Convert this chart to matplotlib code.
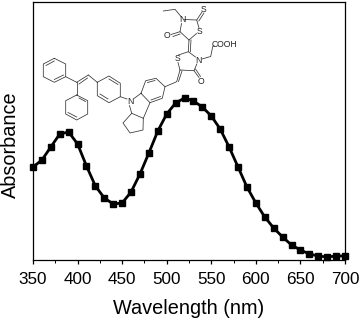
import matplotlib
matplotlib.use("Agg")
import matplotlib.pyplot as plt
from matplotlib.lines import Line2D

wavelength = list(range(350, 701, 10))
absorbance = [93, 100, 113, 126, 128, 116, 94, 74, 62, 56, 57, 68, 86, 107, 129, 146,
              157, 162, 159, 153, 144, 131, 113, 93, 73, 57, 43, 32, 23, 15, 10, 6, 4, 3, 4, 4]
x_ticks = [350, 400, 450, 500, 550, 600, 650, 700]
x_minor = [375, 425, 475, 525, 575, 625, 675]
x_label = "Wavelength (nm)"
y_label = "Absorbance"

# Structure drawing in image pixels (decoration inset)
bonds_single = [
    # phenyl 1
    [(54.3,58.3),(65.7,64),(65.7,76.7),(54.3,82.3),(43.3,76.7),(43.3,64),(54.3,58.3)],
    [(65.7,76.7),(76.7,82.3)],
    [(76.7,82.3),(76.7,95)],
    [(76.7,82.3),(88.3,75)],
    [(88.3,75),(97.3,82.3)],
    # phenyl 2
    [(76.7,95),(87.7,100.7),(87.7,114),(76.7,120),(65.7,114),(65.7,100.7),(76.7,95)],
    # phenyl 3
    [(97.3,82.3),(109,76),(120.3,83.3),(120.3,96.7),(109,102.7),(97.3,95.7),(97.3,82.3)],
    [(120.3,96.7),(127,99)],
    # fused rings
    [(134.3,98.3),(141,93.3)],
    [(141,93.3),(145.7,80.7),(156,78.3),(165,86.7),(162.3,98.3),(150,102.7),(141,93.3)],
    [(150,102.7),(143.3,118.3)],
    [(129.5,105.5),(131.7,113.3),(143.3,118.3)],
    [(131.7,113.3),(123,123),(130,133),(143,130),(143.3,118.3)],
    # vinyl link
    [(165,86.7),(176.7,81.7),(180,70)],
    # lower ring
    [(180,70),(178,62.5)],
    [(180,70),(194,70.7),(196.8,64)],
    [(194,70.7),(199,77.5)],
    [(178.5,55),(188.3,51.7),(195.5,57)],
    [(202,59),(210.7,56.5),(212.7,46.7),(214,45.5)],
    # central exocyclic bond
    [(188.3,51.7),(189,40)],
    # upper ring
    [(189,40),(196.5,33.5)],
    [(189,40),(180,31.7),(181.5,23.5)],
    [(180,31.7),(171,34.5)],
    [(184.5,19.5),(196.7,20),(199,28)],
    [(196.7,20),(202,12)],
    [(181,16.5),(175,9.3),(163.3,11)],
]
bonds_double = [
    ((46,65.5),(54.3,61)), ((63.5,75),(54.3,79.5)),
    ((79,84),(87.5,78)),
    ((79,98),(85.5,101.5)), ((68,112.5),(76.7,117)),
    ((100,94),(108,99)), ((109,79),(118,84.5)),
    ((147.5,82.5),(155,80.5)), ((160.5,96.5),(151,100)),
    ((178.5,81.5),(182,71)),
    ((190.3,51.7),(191,40)),
    ((195.5,69),(200.5,76.5)),
    ((173,36.5),(180,34)),
    ((198.8,21),(204,13)),
]
labels = [
    (130.7,101.5,"N"),(177.7,58.3,"S"),(198.3,60.5,"N"),(201,81,"O"),
    (182.3,20,"N"),(199.3,31.7,"S"),(166.7,36,"O"),(204,9.3,"S"),(224,44.5,"COOH"),
]

W, H = 361, 320
plt.rcParams["font.family"] = ["Liberation Sans"]
fig = plt.figure(figsize=(W/100, H/100), dpi=100)
L, R, T, B = 33, 345, 1.5, 260
ax = fig.add_axes([L/W, 1-B/H, (R-L)/W, (B-T)/H])
ax.plot(wavelength, absorbance, color="black", lw=2.0, marker="s", ms=4.8, clip_on=False, zorder=3)
ax.set_xlim(350, 700)
ax.set_ylim(0, 258.5)
ax.set_xticks(x_ticks)
ax.set_xticks(x_minor, minor=True)
ax.set_yticks([])
ax.tick_params(axis="x", which="major", length=3, width=0.9, labelsize=12.3, pad=5.5, direction="out")
ax.tick_params(axis="x", which="minor", length=1.8, width=0.7)
for s in ax.spines.values():
    s.set_linewidth(0.9)
ax.set_xlabel(x_label, fontsize=14.3, labelpad=8.5)
fig.text(10/W, 1-144.5/H, y_label, rotation=90, fontsize=14.3, ha="center", va="center", color="black")

# overlay in pixel coords
ov = fig.add_axes([0, 0, 1, 1], facecolor="none")
ov.set_xlim(0, W); ov.set_ylim(H, 0); ov.axis("off")
for path in bonds_single:
    xs, ys = zip(*path)
    ov.add_line(Line2D(xs, ys, color="#333333", lw=0.55))
for a, b in bonds_double:
    ov.add_line(Line2D([a[0], b[0]], [a[1], b[1]], color="#333333", lw=0.55))
for x, y, s in labels:
    ov.text(x, y, s, fontsize=6.2, ha="center", va="center", color="#222222")
fig.savefig("out.png", dpi=100)
